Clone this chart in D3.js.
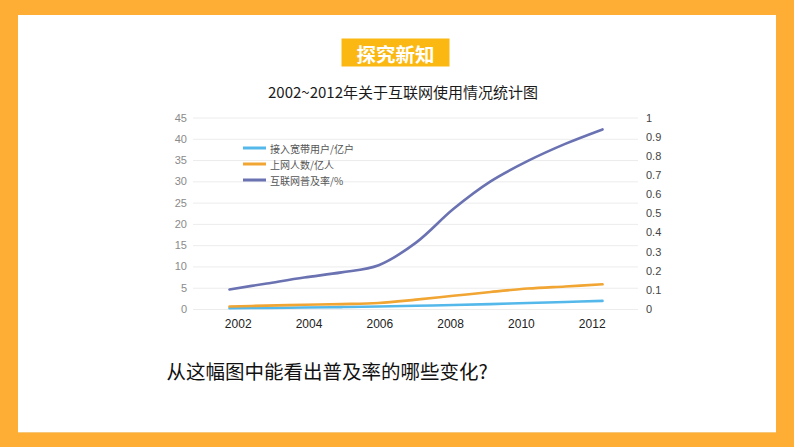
<!DOCTYPE html>
<html>
<head>
<meta charset="utf-8">
<script src="https://cdn.jsdelivr.net/npm/d3@7"></script>
<style>
  html, body { margin: 0; padding: 0; background: #FFAE35; }
  svg { display: block; }
</style>
</head>
<body>
<svg id="chart" width="794" height="447"></svg>
<script>
const years = [2002, 2003, 2004, 2005, 2006, 2007, 2008, 2009, 2010, 2011, 2012];
const broadband = [0.2, 0.25, 0.35, 0.45, 0.6, 0.75, 0.95, 1.15, 1.4, 1.65, 1.9];
const netizens = [0.6, 0.8, 1.0, 1.15, 1.4, 2.2, 3.1, 4.0, 4.8, 5.3, 5.8];
const penetration = [4.6, 6.0, 7.4, 8.6, 10.3, 15.6, 23.5, 30.0, 34.8, 38.8, 42.2];
const xTickLabels = ["2002", "2004", "2006", "2008", "2010", "2012"];
const leftTicks = [0, 5, 10, 15, 20, 25, 30, 35, 40, 45];
const rightTicks = [0, 0.1, 0.2, 0.3, 0.4, 0.5, 0.6, 0.7, 0.8, 0.9, 1];
const seriesNames = ["接入宽带用户/亿户", "上网人数/亿人", "互联网普及率/%"];
const seriesColors = ["#55b8ea", "#f1a533", "#6a72b2"];
const titleText = "2002~2012年关于互联网使用情况统计图";
const tagText = "探究新知";
const questionText = "从这幅图中能看出普及率的哪些变化?";

const svg = d3.select("#chart");
const CJK = "'Noto Sans CJK SC', 'Noto Sans', sans-serif";
const NUM = "'Liberation Sans', Arial, sans-serif";

// background panel
svg.append("rect").attr("x", 0).attr("y", 0).attr("width", 794).attr("height", 447).attr("fill", "#FFAE35");
svg.append("rect").attr("x", 18).attr("y", 16).attr("width", 758).attr("height", 417).attr("fill", "#f3d9a8").attr("opacity", 0.6);
svg.append("rect").attr("x", 18).attr("y", 15).attr("width", 758).attr("height", 417).attr("fill", "#ffffff");

// tag
svg.append("rect").attr("x", 341.5).attr("y", 38.5).attr("width", 108).attr("height", 28).attr("fill", "#FBB812");
svg.append("text").attr("x", 395.5).attr("y", 53).attr("text-anchor", "middle").attr("dominant-baseline", "central")
  .attr("font-family", CJK).attr("font-weight", "bold").attr("font-size", 19).attr("fill", "#fff")
  .attr("textLength", 78).attr("lengthAdjust", "spacingAndGlyphs").text(tagText);

// title
svg.append("text").attr("x", 403).attr("y", 91).attr("text-anchor", "middle").attr("dominant-baseline", "central")
  .attr("font-family", CJK).attr("font-size", 15).attr("fill", "#1a1a1a").text(titleText);

// scales
const yL = d3.scaleLinear().domain([0, 45]).range([309, 117.5]);
const yR = d3.scaleLinear().domain([0, 1]).range([309, 117.5]);
const xLine = d3.scaleLinear().domain([2002, 2012]).range([229.5, 602.5]);
const xLab = d3.scalePoint().domain(xTickLabels).range([237.7, 591.7]);

// gridlines
const grid = svg.append("g").attr("transform", "translate(193,0)")
  .call(d3.axisLeft(yL).tickValues(leftTicks).tickSize(-445).tickFormat(""));
grid.select(".domain").remove();
grid.selectAll(".tick line").attr("stroke", "#ececec").attr("stroke-width", 1);

// left axis labels
const la = svg.append("g").attr("transform", "translate(187,0)")
  .call(d3.axisLeft(yL).tickValues(leftTicks).tickSize(0).tickPadding(0));
la.select(".domain").remove();
la.selectAll("text").attr("font-family", NUM).attr("font-size", 11).attr("fill", "#8a8a8a");

// right axis labels
const ra = svg.append("g").attr("transform", "translate(646,0)")
  .call(d3.axisRight(yR).tickValues(rightTicks).tickSize(0).tickPadding(0).tickFormat(d3.format("~g")));
ra.select(".domain").remove();
ra.selectAll("text").attr("font-family", NUM).attr("font-size", 11).attr("fill", "#444");

// bottom axis labels
const ba = svg.append("g").attr("transform", "translate(0,319)")
  .call(d3.axisBottom(xLab).tickSize(0).tickPadding(0));
ba.select(".domain").remove();
ba.selectAll("text").attr("font-family", NUM).attr("font-size", 12).attr("fill", "#222");

// lines
const seriesData = [broadband, netizens, penetration];
const line = d3.line().x((d, i) => xLine(years[i])).y(d => yL(d)).curve(d3.curveCatmullRom.alpha(0.5));
svg.append("g").selectAll("path").data(seriesData).join("path")
  .attr("d", d => line(d)).attr("fill", "none")
  .attr("stroke", (d, i) => seriesColors[i]).attr("stroke-width", 2.6).attr("stroke-linecap", "round");

// legend
const lg = svg.append("g").selectAll("g").data(seriesNames).join("g")
  .attr("transform", (d, i) => `translate(243,${148 + i * 16})`);
lg.append("line").attr("x1", 0).attr("x2", 23).attr("y1", 0).attr("y2", 0)
  .attr("stroke", (d, i) => seriesColors[i]).attr("stroke-width", 3);
lg.append("text").attr("x", 27).attr("y", 0).attr("dominant-baseline", "central")
  .attr("font-family", CJK).attr("font-size", 10).attr("fill", "#555").text(d => d);

// question
svg.append("text").attr("x", 166.5).attr("y", 370).attr("dominant-baseline", "central")
  .attr("font-family", CJK).attr("font-size", 19.5).attr("fill", "#111").text(questionText);
</script>
</body>
</html>
